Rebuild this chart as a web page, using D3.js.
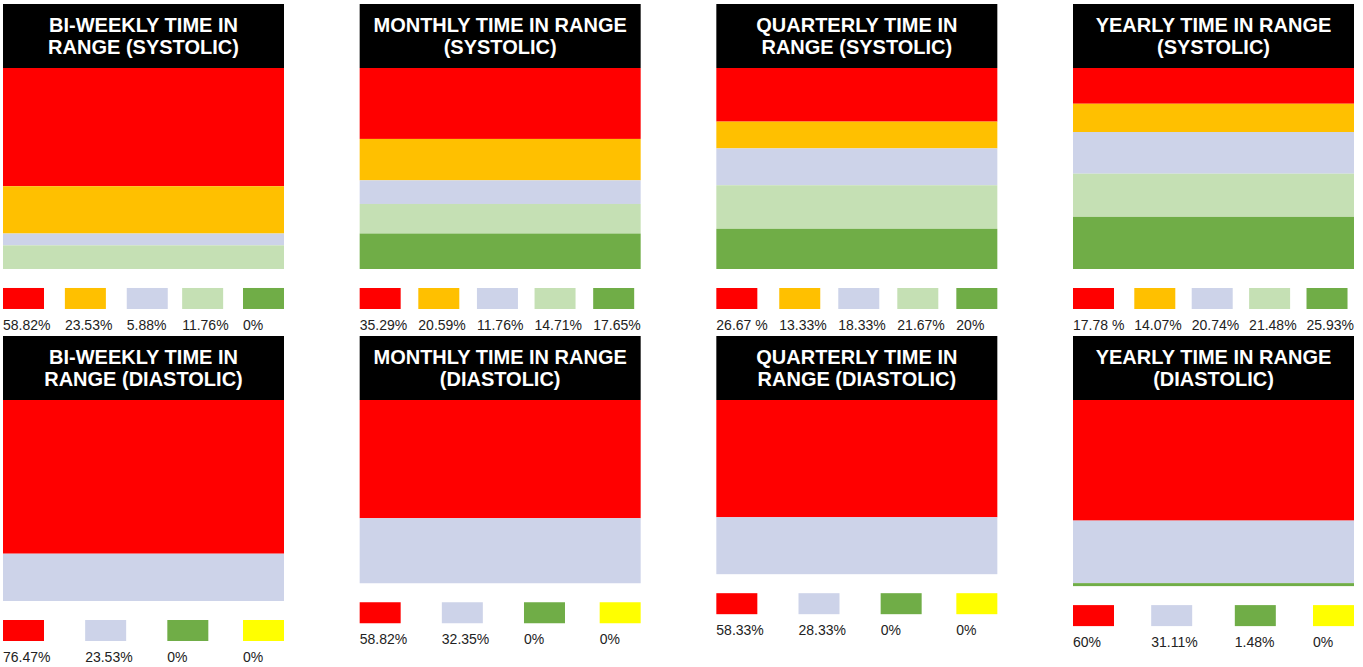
<!DOCTYPE html>
<html>
<head>
<meta charset="utf-8">
<script src="https://cdn.jsdelivr.net/npm/d3@7"></script>
<style>
  body { margin: 0; background: #fff; }
  svg { display: block; font-family: "Liberation Sans", Arial, sans-serif; }
</style>
</head>
<body>
<svg id="chart" width="1363" height="667"></svg>
<script>
// Panel titles, two lines each.
var TITLES = [
  ['BI-WEEKLY TIME IN', 'RANGE (SYSTOLIC)'],
  ['MONTHLY TIME IN RANGE', '(SYSTOLIC)'],
  ['QUARTERLY TIME IN', 'RANGE (SYSTOLIC)'],
  ['YEARLY TIME IN RANGE', '(SYSTOLIC)'],
  ['BI-WEEKLY TIME IN', 'RANGE (DIASTOLIC)'],
  ['MONTHLY TIME IN RANGE', '(DIASTOLIC)'],
  ['QUARTERLY TIME IN', 'RANGE (DIASTOLIC)'],
  ['YEARLY TIME IN RANGE', '(DIASTOLIC)']
];

// Percent values, top to bottom in each stack.
var SYSTOLIC_BIWEEKLY = [58.82, 23.53, 5.88, 11.76, 0];
var SYSTOLIC_MONTHLY = [35.29, 20.59, 11.76, 14.71, 17.65];
var SYSTOLIC_QUARTERLY = [26.67, 13.33, 18.33, 21.67, 20];
var SYSTOLIC_YEARLY = [17.78, 14.07, 20.74, 21.48, 25.93];
var DIASTOLIC_BIWEEKLY = [76.47, 23.53, 0, 0];
var DIASTOLIC_MONTHLY = [58.82, 32.35, 0, 0];
var DIASTOLIC_QUARTERLY = [58.33, 28.33, 0, 0];
var DIASTOLIC_YEARLY = [60, 31.11, 1.48, 0];

// Legend labels as printed (some have a stray space).
var LABELS = [
  ['58.82%', '23.53%', '5.88%', '11.76%', '0%'],
  ['35.29%', '20.59%', '11.76%', '14.71%', '17.65%'],
  ['26.67 %', '13.33%', '18.33%', '21.67%', '20%'],
  ['17.78 %', '14.07%', '20.74%', '21.48%', '25.93%'],
  ['76.47%', '23.53%', '0%', '0%'],
  ['58.82%', '32.35%', '0%', '0%'],
  ['58.33%', '28.33%', '0%', '0%'],
  ['60%', '31.11%', '1.48%', '0%']
];

var SYSTOLIC_COLORS = ['#ff0000', '#ffc000', '#cdd3e9', '#c5e0b4', '#70ad47'];
var DIASTOLIC_COLORS = ['#ff0000', '#cdd3e9', '#70ad47', '#ffff00'];

var VALUES = [
  SYSTOLIC_BIWEEKLY, SYSTOLIC_MONTHLY, SYSTOLIC_QUARTERLY, SYSTOLIC_YEARLY,
  DIASTOLIC_BIWEEKLY, DIASTOLIC_MONTHLY, DIASTOLIC_QUARTERLY, DIASTOLIC_YEARLY
];

var PANEL_W = 281, HEADER_H = 64, BAR_H = 201;
var SW_W = 41, SW_H = 21;
var colX = d3.scalePoint().domain([0, 1, 2, 3]).range([3, 1354 - PANEL_W]);
var rowY = [4, 336];
var y = d3.scaleLinear().domain([0, 100]).range([0, BAR_H]);

var svg = d3.select('#chart');

var drawPanel = function(i) {
  var vals = VALUES[i];
  var colors = i < 4 ? SYSTOLIC_COLORS : DIASTOLIC_COLORS;
  var g = svg.append('g')
    .attr('transform', 'translate(' + colX(i % 4) + ',' + rowY[Math.floor(i / 4)] + ')');

  // header
  g.append('rect').attr('width', PANEL_W).attr('height', HEADER_H).attr('fill', '#000');
  g.append('text')
    .attr('x', PANEL_W / 2)
    .attr('text-anchor', 'middle')
    .attr('fill', '#fff')
    .style('font-weight', 'bold')
    .style('font-size', '20px')
    .selectAll('tspan').data(TITLES[i])
    .enter().append('tspan')
    .attr('x', PANEL_W / 2)
    .attr('y', function(d, j) { return 28 + j * 22; })
    .text(function(d) { return d; });

  // stacked bar
  var starts = [];
  vals.reduce(function(acc, v) { starts.push(acc); return acc + v; }, 0);
  g.selectAll('.seg').data(vals)
    .enter().append('rect')
    .attr('x', 0)
    .attr('y', function(d, j) { return HEADER_H + y(starts[j]); })
    .attr('width', PANEL_W)
    .attr('height', function(d) { return y(d); })
    .attr('fill', function(d, j) { return colors[j]; });

  // legend
  var legY = HEADER_H + y(d3.sum(vals)) + 19;
  var items = g.selectAll('.item').data(vals)
    .enter().append('g').classed('item', true);
  items.append('rect')
    .attr('width', SW_W).attr('height', SW_H)
    .attr('fill', function(d, j) { return colors[j]; });
  items.append('text')
    .attr('y', 42)
    .attr('fill', '#222')
    .style('font-size', '14px')
    .text(function(d, j) { return LABELS[i][j]; });

  var widths = [];
  items.each(function() {
    widths.push(Math.max(SW_W, d3.select(this).select('text').node().getComputedTextLength()));
  });
  var gap = (PANEL_W - d3.sum(widths)) / (widths.length - 1);
  var x = 0;
  items.attr('transform', function(d, j) {
    var t = 'translate(' + x + ',' + legY + ')';
    x += widths[j] + gap;
    return t;
  });
};

d3.range(8).forEach(drawPanel);
</script>
</body>
</html>
